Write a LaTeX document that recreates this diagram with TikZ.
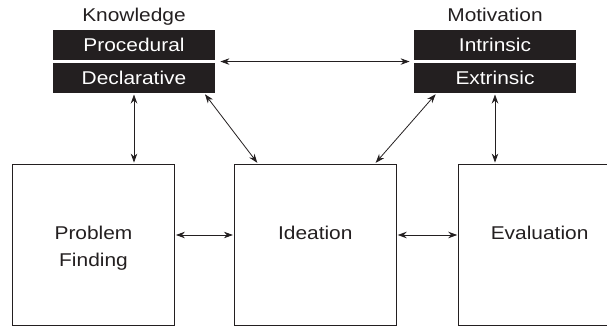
\documentclass[tikz,border=0pt]{standalone}
\usepackage{fontspec}
\setmainfont{Liberation Sans}[FakeStretch=1.13]
\usepackage{tikz}
\usetikzlibrary{positioning, arrows.meta}
\definecolor{ink}{HTML}{231F20}
\tikzset{
<->, % every connector points both ways
>={Stealth[length=9pt,width=6.5pt]}, % arrow heads
shorten >=1pt, shorten <=1pt, % small gap at the boxes
every node/.style={font=\fontsize{18.5}{27}\selectfont, text=ink, inner sep=0pt},
stage/.style={draw=ink, minimum width=162pt, minimum height=161pt, align=center, text height=13.3pt, text depth=23.7pt}, % the three big boxes
kind/.style={fill=ink, text=white, minimum width=162pt, minimum height=30pt, text height=13.3pt, text depth=0pt}, % black bars
heading/.style={text height=13.3pt, text depth=0pt}, % titles over the bars
}

\begin{document}
\begin{tikzpicture}[x=1pt, y=-1pt, line width=0.8pt, draw=ink]
        \useasboundingbox (0,0) rectangle (607,328);

        \node[kind] (proc) at (134,45) {Procedural};
        \node[kind, below=2.3pt of proc] (decl) {Declarative};
        \node[heading, above=7.7pt of proc] (know) {Knowledge};
        \node[kind] (intr) at (495,45) {Intrinsic};
        \node[kind, below=2.3pt of intr] (extr) {Extrinsic};
        \node[heading, above=7.7pt of intr] (motiv) {Motivation};

        \node[stage, text height=44.4pt, text depth=0pt] (prob) at (93.5,244.5) {Problem\\Finding};
        \node[stage, right=59pt of prob] (idea) {Ideation};
        \node[stage, right=61.5pt of idea] (eval) {Evaluation};

        \draw[shorten <=5pt, shorten >=4pt] ([yshift=-1.15pt]proc.south east) -- ([yshift=-1.15pt]intr.south west);
        \draw (decl) -- (decl.south |- prob.north);
        \draw ([xshift=-11pt]decl.south east) -- ([xshift=24pt]idea.north west);
        \draw ([xshift=22.7pt]extr.south west) -- ([xshift=-21.7pt]idea.north east);
        \draw (extr) -- (extr.south |- eval.north);
        \draw ([yshift=9.5pt]prob.east) -- ([yshift=9.5pt]idea.west);
        \draw ([yshift=9.5pt]idea.east) -- ([yshift=9.5pt]eval.west);
      \end{tikzpicture}
\end{document}
